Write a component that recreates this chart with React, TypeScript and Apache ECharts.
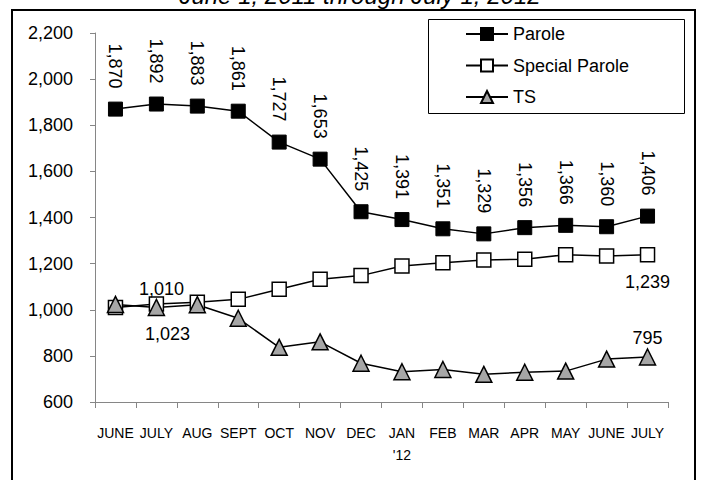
import React, { useEffect, useRef } from "react";
import * as echarts from "echarts";

const FONT = '"Liberation Sans", Arial, sans-serif';

const titleText = "June 1, 2011 through July 1, 2012";
const categories = ["JUNE", "JULY", "AUG", "SEPT", "OCT", "NOV", "DEC", "JAN\n'12", "FEB", "MAR", "APR", "MAY", "JUNE", "JULY"];
const parole = [1870, 1892, 1883, 1861, 1727, 1653, 1425, 1391, 1351, 1329, 1356, 1366, 1360, 1406];
const specialParole = [1010, 1025, 1032, 1045, 1089, 1132, 1148, 1190, 1204, 1216, 1219, 1239, 1233, 1239];
const ts = [1023, 1010, 1022, 963, 837, 861, 768, 731, 741, 720, 729, 734, 786, 795];
const yMin = 600;
const yMax = 2200;
const yStep = 200;

const fmt = (v: number) => Number(v).toLocaleString("en-US");

export default function App() {
  const ref = useRef<HTMLDivElement>(null);
  useEffect(() => {
    document.body.style.margin = "0";
    const chart = echarts.init(ref.current!, null, { renderer: "svg" });
    const labelBase = { show: true, color: "#000", fontSize: 18, fontFamily: FONT, formatter: (p: any) => fmt(p.value) };
    const spData = specialParole.map((v, i) => {
      if (i === 0) return { value: v, label: { ...labelBase, position: "top", distance: 2, offset: [46, 0] } };
      if (i === specialParole.length - 1) return { value: v, label: { ...labelBase, position: "bottom", distance: 11 } };
      return { value: v };
    });
    const tsData = ts.map((v, i) => {
      if (i === 0) return { value: v, label: { ...labelBase, position: "bottom", distance: 12, offset: [52, 0] } };
      if (i === ts.length - 1) return { value: v, label: { ...labelBase, position: "top", distance: 1 } };
      return { value: v };
    });
    const option: any = {
      animation: false,
      backgroundColor: "#fff",
      textStyle: { fontFamily: FONT },
      grid: { left: 95, right: 33, top: 33, bottom: 78 },
      graphic: [
        {
          type: "rect",
          silent: true,
          z: 0,
          shape: { x: 12, y: 10, width: 683, height: 480 },
          style: { fill: "none", stroke: "#000", lineWidth: 2 },
        },
        {
          type: "text",
          silent: true,
          x: 360,
          y: -5,
          style: {
            text: titleText,
            font: 'italic 24px "Liberation Sans", Arial, sans-serif',
            fill: "#000",
            align: "center",
            verticalAlign: "middle",
          },
        },
        {
          type: "rect",
          silent: true,
          z: 1,
          shape: { x: 428.5, y: 19.5, width: 256, height: 94 },
          style: { fill: "#fff", stroke: "#000", lineWidth: 1 },
        },
      ],
      legend: {
        left: 465,
        top: 25,
        orient: "vertical",
        padding: 0,
        itemWidth: 42,
        itemHeight: 15,
        itemGap: 13.5,
        selectedMode: false,
        z: 5,
        textStyle: { fontSize: 18, color: "#000", fontFamily: FONT },
        data: ["Parole", "Special Parole", "TS"],
      },
      xAxis: {
        type: "category",
        data: categories,
        boundaryGap: true,
        axisLine: { lineStyle: { color: "#868686", width: 1 } },
        axisTick: { show: true, length: 6, lineStyle: { color: "#868686" } },
        axisLabel: { color: "#000", fontSize: 14, margin: 20, lineHeight: 22, interval: 0, fontFamily: FONT },
      },
      yAxis: {
        type: "value",
        min: yMin,
        max: yMax,
        interval: yStep,
        axisLine: { show: true, lineStyle: { color: "#868686", width: 1 } },
        axisTick: { show: true, length: 5, lineStyle: { color: "#868686" } },
        splitLine: { show: false },
        axisLabel: { color: "#000", fontSize: 18, margin: 22, fontFamily: FONT, formatter: (v: number) => fmt(v) },
      },
      series: [
        {
          name: "Parole",
          type: "line",
          data: parole,
          symbol: "rect",
          symbolSize: 14,
          showAllSymbol: true,
          lineStyle: { color: "#000", width: 1.5 },
          itemStyle: { color: "#000", borderColor: "#000", borderWidth: 1 },
          label: {
            ...labelBase,
            position: "top",
            distance: 13,
            rotate: -90,
            align: "right",
            verticalAlign: "middle",
          },
        },
        {
          name: "Special Parole",
          type: "line",
          data: spData,
          symbol: "rect",
          symbolSize: 14,
          showAllSymbol: true,
          lineStyle: { color: "#000", width: 1.5 },
          itemStyle: { color: "#fff", borderColor: "#000", borderWidth: 1.5 },
        },
        {
          name: "TS",
          type: "line",
          data: tsData,
          symbol: "triangle",
          symbolSize: 16,
          showAllSymbol: true,
          lineStyle: { color: "#000", width: 1.5 },
          itemStyle: { color: "#a6a6a6", borderColor: "#000", borderWidth: 1.5 },
        },
      ],
    };
    chart.setOption(option);
    return () => chart.dispose();
  }, []);
  return <div ref={ref} style={{ width: 701, height: 480 }} />;
}
